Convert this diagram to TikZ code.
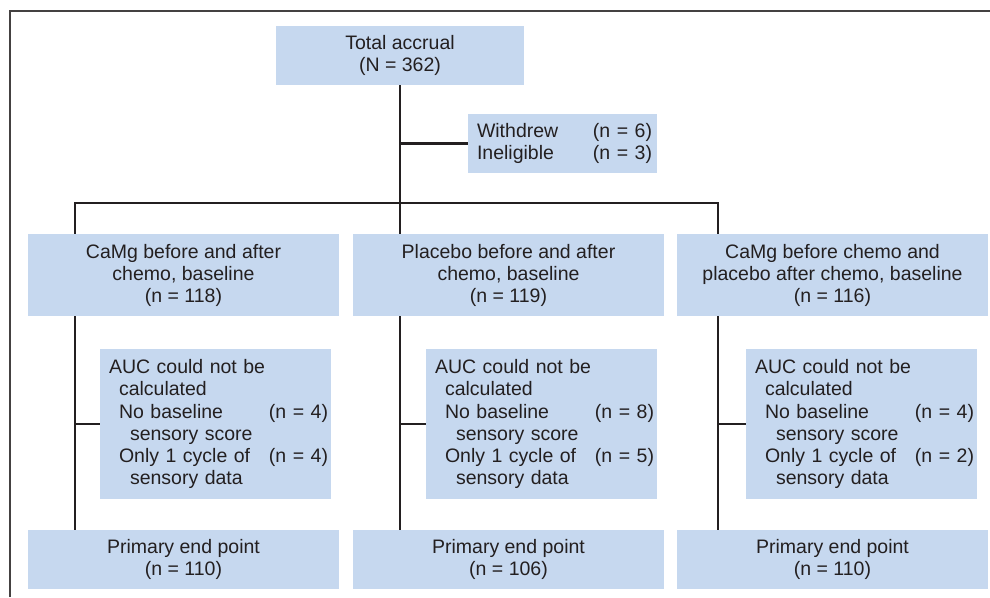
\documentclass[tikz,border=0pt]{standalone}
\usepackage{fontspec}
\setmainfont{Liberation Sans}
\definecolor{boxblue}{HTML}{C6D8EF}
\definecolor{ink}{RGB}{35,31,32}
\begin{document}
\begin{tikzpicture}[x=1pt,y=1pt,
  font=\fontsize{19.5pt}{22pt}\selectfont,
  every node/.style={text=ink},
  bluebox/.style={fill=boxblue, draw=none, inner sep=0pt, align=center},
  conn/.style={draw=ink, line width=2.3pt},
  frameline/.style={draw=ink!85, line width=1.2pt}]
\useasboundingbox (0,0) rectangle (990,-597);
% frame (right and bottom edges lie outside the picture)
\draw[frameline] (10,-597) -- (10,-11) -- (990,-11);

\node[bluebox, minimum width=248, minimum height=59] (total) at (400,-55.5)
  {Total accrual\\(N = 362)};
\node[bluebox, minimum width=189, minimum height=59, align=left,
  text width=171, inner xsep=9pt] (withd) at (562.5,-143.5)
  {\fontsize{19.5pt}{23.5pt}\selectfont\makebox[116pt][l]{Withdrew}\rlap{(n = 6)}\\\makebox[116pt][l]{Ineligible}\rlap{(n = 3)}};

\node[bluebox, minimum width=311, minimum height=82] (g1) at (183.5,-275)
  {CaMg before and after\\chemo, baseline\\(n = 118)};
\node[bluebox, minimum width=311, minimum height=82] (g2) at (508.5,-275)
  {Placebo before and after\\chemo, baseline\\(n = 119)};
\node[bluebox, minimum width=311, minimum height=82] (g3) at (832.5,-275)
  {CaMg before chemo and\\placebo after chemo, baseline\\(n = 116)};

\newcommand{\auctext}[2]{AUC could not be\\
  \hspace*{10pt}calculated\\
  \hspace*{10pt}\makebox[150pt][l]{No baseline}\rlap{(n = #1)}\\
  \hspace*{21pt}sensory score\\
  \hspace*{10pt}\makebox[150pt][l]{Only 1 cycle of}\rlap{(n = #2)}\\
  \hspace*{21pt}sensory data}
\tikzset{aucbox/.style={bluebox, minimum width=231, minimum height=150,
  align=left, text width=213, inner xsep=9pt}}
\node[aucbox] (a1) at (215.5,-424) {\fontsize{19.5pt}{22.4pt}\selectfont\auctext{4}{4}};
\node[aucbox] (a2) at (541.5,-424) {\fontsize{19.5pt}{22.4pt}\selectfont\auctext{8}{5}};
\node[aucbox] (a3) at (861.5,-424) {\fontsize{19.5pt}{22.4pt}\selectfont\auctext{4}{2}};

\node[bluebox, minimum width=311, minimum height=59] (p1) at (183.5,-559.5)
  {Primary end point\\(n = 110)};
\node[bluebox, minimum width=311, minimum height=59] (p2) at (508.5,-559.5)
  {Primary end point\\(n = 106)};
\node[bluebox, minimum width=311, minimum height=59] (p3) at (832.5,-559.5)
  {Primary end point\\(n = 110)};

\coordinate (j1) at (75,-203);
\coordinate (j2) at (400,-203);
\coordinate (j3) at (718,-203);

% connectors
\draw[conn] (total.south) -- (j2 |- g2.north);
\draw[conn] (total.south |- withd.west) -- (withd.west);
\draw[conn] (j1 |- g1.north) -- (j1) -- (j3) -- (j3 |- g3.north);

\draw[conn] (j1 |- g1.south) -- (j1 |- p1.north);
\draw[conn] (j2 |- g2.south) -- (j2 |- p2.north);
\draw[conn] (j3 |- g3.south) -- (j3 |- p3.north);
\draw[conn] (j1 |- a1.west) -- (a1.west);
\draw[conn] (j2 |- a2.west) -- (a2.west);
\draw[conn] (j3 |- a3.west) -- (a3.west);
\end{tikzpicture}
\end{document}
